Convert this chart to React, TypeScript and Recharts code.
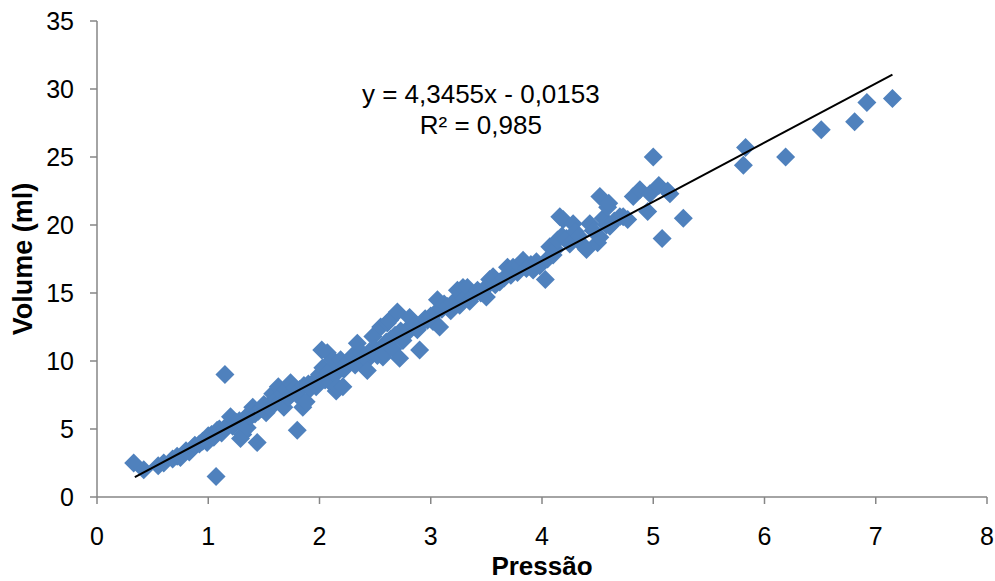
import { ScatterChart, Scatter, XAxis, YAxis, ReferenceDot } from "recharts";

const pressao = [
  0.33, 0.42, 0.55, 0.6, 0.68, 0.72, 0.75, 0.8, 0.83, 0.86, 0.88, 0.92, 0.95, 0.99, 1.0, 1.03, 1.05, 1.07, 1.08, 1.1,
  1.12, 1.15, 1.15, 1.18, 1.2, 1.22, 1.25, 1.28, 1.29, 1.31, 1.33, 1.35, 1.36, 1.38, 1.4, 1.42, 1.44, 1.45, 1.48, 1.5,
  1.52, 1.55, 1.57, 1.58, 1.6, 1.62, 1.63, 1.65, 1.67, 1.68, 1.7, 1.72, 1.74, 1.75, 1.78, 1.8, 1.8, 1.82, 1.85, 1.86,
  1.88, 1.9, 1.92, 1.95, 1.97, 1.98, 2.0, 2.02, 2.03, 2.05, 2.07, 2.08, 2.1, 2.12, 2.14, 2.15, 2.16, 2.18, 2.19, 2.21,
  2.22, 2.25, 2.27, 2.3, 2.32, 2.34, 2.36, 2.38, 2.4, 2.43, 2.43, 2.45, 2.48, 2.5, 2.52, 2.55, 2.56, 2.57, 2.58, 2.6,
  2.61, 2.63, 2.64, 2.66, 2.68, 2.7, 2.72, 2.73, 2.75, 2.78, 2.8, 2.81, 2.85, 2.88, 2.9, 2.92, 2.95, 2.97, 3.0, 3.02,
  3.05, 3.06, 3.08, 3.1, 3.12, 3.15, 3.18, 3.2, 3.24, 3.26, 3.29, 3.3, 3.33, 3.35, 3.38, 3.42, 3.45, 3.47, 3.5, 3.53,
  3.56, 3.58, 3.62, 3.66, 3.69, 3.72, 3.74, 3.78, 3.8, 3.83, 3.86, 3.9, 3.92, 3.95, 3.98, 4.03, 4.05, 4.07, 4.1, 4.12,
  4.14, 4.16, 4.18, 4.19, 4.22, 4.25, 4.28, 4.3, 4.33, 4.37, 4.4, 4.43, 4.46, 4.5, 4.52, 4.52, 4.55, 4.58, 4.59, 4.6,
  4.61, 4.65, 4.7, 4.73, 4.77, 4.82, 4.88, 4.95, 4.97, 5.0, 5.05, 5.08, 5.13, 5.15, 5.27, 5.81, 5.83, 6.19, 6.51, 6.81,
  6.92, 7.15,
];

const volume = [
  2.5, 2.0, 2.3, 2.5, 2.8, 3.0, 2.9, 3.4, 3.3, 3.6, 3.8, 3.9, 4.1, 4.0, 4.5, 4.6, 4.4, 1.5, 4.9, 5.0,
  4.7, 9.0, 5.1, 5.3, 5.9, 5.2, 5.5, 5.6, 4.3, 4.6, 5.8, 5.1, 6.0, 5.9, 6.6, 6.1, 4.0, 6.3, 6.5, 6.8,
  6.2, 6.6, 7.0, 7.6, 6.9, 7.2, 8.1, 7.0, 7.6, 6.6, 7.9, 7.3, 8.4, 7.6, 8.0, 4.9, 7.5, 7.9, 6.6, 8.2,
  7.0, 8.3, 8.0, 8.5, 8.1, 8.6, 9.0, 10.8, 9.5, 8.6, 10.6, 9.2, 8.4, 10.1, 9.0, 7.8, 8.1, 9.6, 10.1, 8.1,
  9.4, 9.9, 10.0, 10.4, 9.7, 11.3, 10.1, 10.6, 10.3, 10.1, 9.3, 10.7, 11.8, 10.9, 10.4, 12.5, 11.0, 10.3, 10.6, 11.4,
  12.8, 13.0, 11.6, 10.9, 11.9, 13.6, 10.2, 12.2, 11.5, 12.0, 12.4, 13.2, 12.6, 12.3, 10.8, 12.8, 13.1, 13.0, 13.3, 12.9,
  13.6, 14.5, 12.5, 13.8, 14.2, 14.0, 13.7, 14.3, 15.2, 14.1, 15.4, 14.6, 15.4, 14.4, 14.8, 15.2, 15.0, 15.2, 14.7, 16.0,
  16.2, 15.6, 15.8, 16.1, 16.9, 16.3, 16.9, 16.5, 17.0, 17.4, 16.8, 17.1, 16.7, 17.3, 17.0, 16.0, 17.5, 18.4, 17.8, 18.2,
  18.9, 20.6, 19.2, 20.4, 19.0, 18.6, 20.1, 19.5, 19.2, 18.5, 18.2, 20.1, 19.6, 18.7, 22.1, 19.1, 20.5, 20.0, 21.3, 21.6,
  19.9, 20.3, 20.6, 20.6, 20.4, 22.1, 22.6, 21.0, 22.3, 25.0, 22.9, 19.0, 22.5, 22.3, 20.5, 24.4, 25.7, 25.0, 27.0, 27.6,
  29.0, 29.3,
];

const xTicks = [0, 1, 2, 3, 4, 5, 6, 7, 8];
const yTicks = [0, 5, 10, 15, 20, 25, 30, 35];

// linear trendline shown on the chart: y = 4,3455x - 0,0153
const slope = 4.3455;
const intercept = -0.0153;
const trendX = [0.34, 7.15];

const points = pressao.map((x, i) => ({ x, y: volume[i] }));
const trend = trendX.map((x) => ({ x, y: slope * x + intercept }));

const FONT = '"Liberation Sans", Arial, sans-serif';
const AXIS_GREY = "#868686";

const Diamond = (props: any) => {
  const { cx, cy } = props;
  const r = 9.5;
  return (
    <polygon
      points={`${cx},${cy - r} ${cx + r},${cy} ${cx},${cy + r} ${cx - r},${cy}`}
      fill="#4F81BD"
    />
  );
};

const EquationLabel = (props: any) => {
  const { x, y } = props.viewBox;
  return (
    <text textAnchor="middle" fontFamily={FONT} fontSize={26} fill="#000">
      <tspan x={x} y={y}>y = 4,3455x - 0,0153</tspan>
      <tspan x={x} dy={31}>R² = 0,985</tspan>
    </text>
  );
};

export default function App() {
  return (
    <div style={{ position: "absolute", left: 0, top: 0, background: "#fff" }}>
      <ScatterChart
        width={995}
        height={581}
        margin={{ top: 21, right: 8, bottom: 0, left: 7 }}
      >
        <XAxis
          type="number"
          dataKey="x"
          domain={[0, 8]}
          ticks={xTicks}
          interval={0}
          height={84}
          tickSize={7}
          tickMargin={23}
          axisLine={{ stroke: AXIS_GREY, strokeWidth: 1.5 }}
          tickLine={{ stroke: AXIS_GREY, strokeWidth: 1.5 }}
          tick={{ fill: "#000", fontSize: 25, fontFamily: FONT }}
          label={{
            value: "Pressão",
            position: "insideBottom",
            offset: 6,
            style: { fontFamily: FONT, fontSize: 26, fontWeight: "bold", fill: "#000" },
          }}
        />
        <YAxis
          type="number"
          dataKey="y"
          domain={[0, 35]}
          ticks={yTicks}
          interval={0}
          width={90}
          tickSize={7}
          tickMargin={16}
          axisLine={{ stroke: AXIS_GREY, strokeWidth: 1.5 }}
          tickLine={{ stroke: AXIS_GREY, strokeWidth: 1.5 }}
          tick={{ fill: "#000", fontSize: 25, fontFamily: FONT }}
          label={{
            value: "Volume (ml)",
            angle: -90,
            position: "insideLeft",
            offset: 15,
            style: {
              textAnchor: "middle",
              fontFamily: FONT,
              fontSize: 27,
              fontWeight: "bold",
              fill: "#000",
            },
          }}
        />
        <Scatter data={points} shape={Diamond} isAnimationActive={false} />
        <Scatter
          data={trend}
          line={{ stroke: "#000", strokeWidth: 2 }}
          shape={() => <g />}
          isAnimationActive={false}
        />
        <ReferenceDot
          x={3.45}
          y={29}
          r={0}
          fill="none"
          stroke="none"
          label={<EquationLabel />}
        />
      </ScatterChart>
    </div>
  );
}
